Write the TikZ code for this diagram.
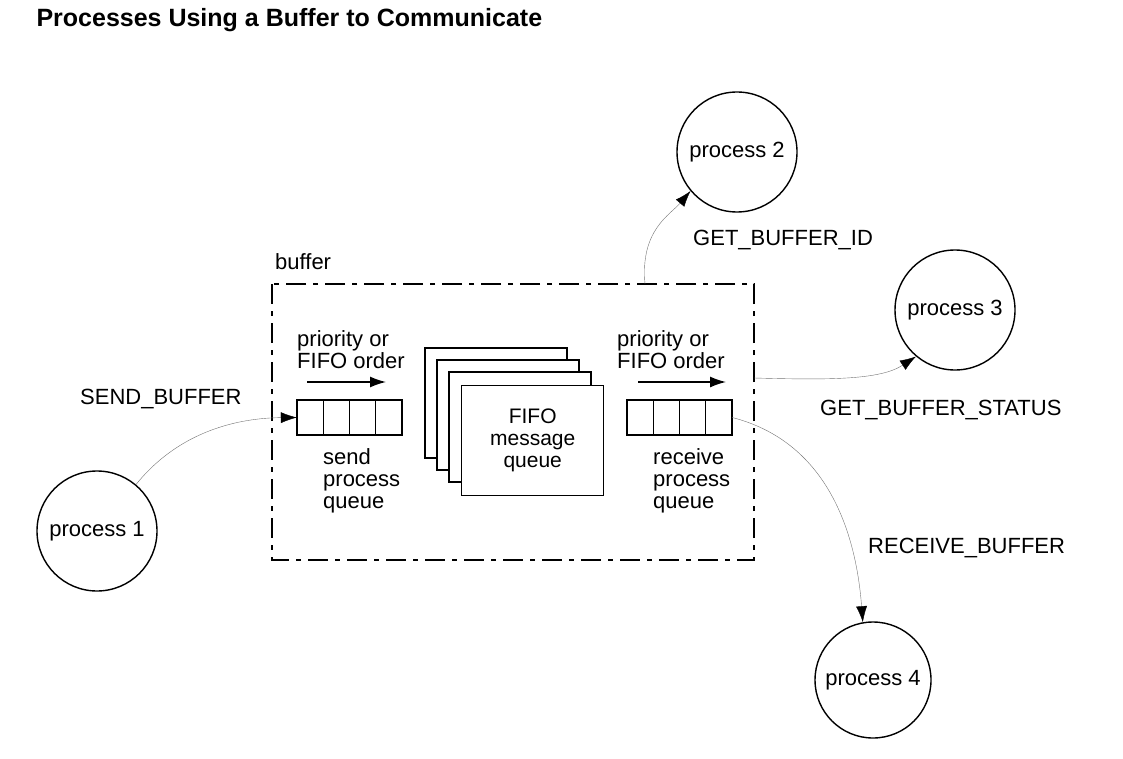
\documentclass[tikz,border=0pt]{standalone}
\usepackage{fontspec}
\setmainfont{Liberation Sans}
\usetikzlibrary{arrows.meta}
\begin{document}
\begin{tikzpicture}[x=1pt,y=-1pt,
  proc/.style={circle,draw,line width=1.4pt,minimum size=120pt,inner sep=0pt,font=\fontsize{22}{25}\selectfont},
  lbl/.style={font=\fontsize{22}{22}\selectfont,inner sep=0pt},
  conn/.style={draw=black!55,-{Latex[black,length=16pt,width=11pt]}},
  sheet/.style={draw,line width=1.4pt,fill=white}]
\useasboundingbox (0,0) rectangle (1123,759);
\node[anchor=west,font=\bfseries\fontsize{25}{28}\selectfont] (title) at (33,20) {Processes Using a Buffer to Communicate};
% buffer box
\draw[line width=1.4pt,dash pattern=on 20pt off 7pt on 5pt off 7pt] (272,284) rectangle (754,560);
\node[lbl,anchor=west] (buf) at (275,262) {buffer};
\coordinate (btop) at (645,284);
\coordinate (bright) at (754,378);
% sheets
\foreach \i in {0,1,2}{\draw[sheet] (425+12*\i,348+12*\i) rectangle (567+12*\i,458+12*\i);}
\node[sheet,minimum width=142pt,minimum height=110pt,anchor=north west,align=center,font=\fontsize{21}{22}\selectfont] (fifo) at (461,385) {FIFO\\message\\queue};
% queues
\foreach \x/\n in {297/sq,627/rq}{
  \draw[line width=1.4pt] (\x,400) rectangle (\x+105,435);
  \foreach \k in {1,2,3}{\draw[line width=1.4pt] (\x+26.25*\k,400) -- (\x+26.25*\k,435);}
  \node[inner sep=0pt,minimum width=105pt,minimum height=35pt] (\n) at (\x+52.5,417.5) {};
}
\node[lbl,align=left,anchor=west] (po1) at (297,350) {priority or\\FIFO order};
\node[lbl,align=left,anchor=west] (po2) at (617,350) {priority or\\FIFO order};
\coordinate (a1) at (307,382); \coordinate (b1) at (386,382);
\coordinate (a2) at (638,382); \coordinate (b2) at (726,382);
\draw[line width=1.4pt,-{Latex[length=16pt,width=11pt]}] (a1) -- (b1);
\draw[line width=1.4pt,-{Latex[length=16pt,width=11pt]}] (a2) -- (b2);
\node[lbl,align=left,anchor=north west] (sl) at (323,448) {send\\process\\queue};
\node[lbl,align=left,anchor=north west] (rl) at (653,448) {receive\\process\\queue};
% processes
\node[proc] (p1) at (97,531) {process 1};
\node[proc] (p2) at (737,152) {process 2};
\node[proc] (p3) at (955,310) {process 3};
\node[proc,minimum size=116pt] (p4) at (873,680) {process 4};
% connectors
\draw[conn] (p1.50) .. controls (180,430) and (240,418) .. (sq.west);
\draw[conn] (btop) .. controls (640,230) and (670,215) .. (p2.220);
\draw[conn] (bright) .. controls (830,380) and (880,380) .. (p3.230);
\draw[conn] (rq.east) .. controls (820,440) and (855,520) .. (p4.100);
\node[lbl,anchor=west] (l1) at (80,399) {SEND\_BUFFER};
\node[lbl,anchor=west] (l2) at (693,240) {GET\_BUFFER\_ID};
\node[lbl,anchor=west] (l3) at (820,410) {GET\_BUFFER\_STATUS};
\node[lbl,anchor=west] (l4) at (868,548) {RECEIVE\_BUFFER};
\end{tikzpicture}
\end{document}
